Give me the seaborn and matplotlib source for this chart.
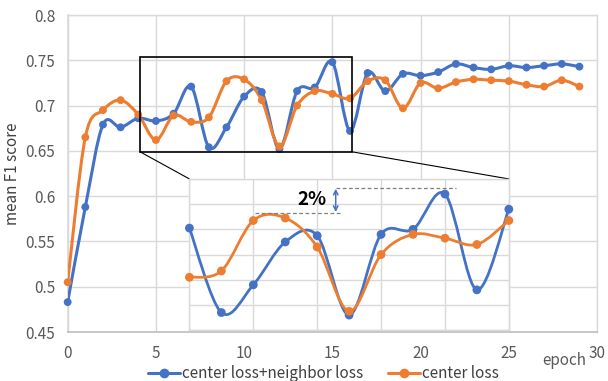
import numpy as np
import pandas as pd
import matplotlib
matplotlib.use("Agg")
import matplotlib.pyplot as plt
from matplotlib.path import Path
from matplotlib.patches import PathPatch, Rectangle
from matplotlib.lines import Line2D
import seaborn as sns

# ---- data -------------------------------------------------------------
epochs = list(range(30))
combined_loss = [0.483, 0.588, 0.679, 0.676, 0.686, 0.683, 0.691, 0.721, 0.654, 0.676,
                 0.710, 0.715, 0.652, 0.716, 0.720, 0.748, 0.672, 0.736, 0.716, 0.735,
                 0.733, 0.737, 0.746, 0.742, 0.740, 0.744, 0.742, 0.744, 0.746, 0.743]
center_loss = [0.505, 0.665, 0.695, 0.706, 0.690, 0.662, 0.689, 0.682, 0.687, 0.727,
               0.729, 0.706, 0.655, 0.700, 0.716, 0.713, 0.708, 0.727, 0.728, 0.697,
               0.725, 0.719, 0.726, 0.729, 0.728, 0.727, 0.723, 0.721, 0.728, 0.721]
series_names = ["center loss+neighbor loss", "center loss"]
x_ticks = [0, 5, 10, 15, 20, 25, 30]
y_ticks = [0.45, 0.5, 0.55, 0.6, 0.65, 0.7, 0.75, 0.8]
zoom_epochs = (7, 17)            # epochs shown in the magnified panel
peak_levels = (0.753, 0.733)     # best smoothed score of each method in that window

colors = ["#4472C4", "#ED7D31"]
grid_c = "#D9D9D9"
text_c = "#595959"
fs = 11

df = pd.DataFrame({
    "epoch": epochs * 2,
    "score": combined_loss + center_loss,
    "method": [series_names[0]] * len(epochs) + [series_names[1]] * len(epochs),
})

sns.set_theme(style="white")
plt.rcParams["font.family"] = ["Noto Sans CJK SC", "DejaVu Sans"]


def smooth_path(xs, ys):
    """Catmull-Rom style Bezier path through the points (spreadsheet 'smoothed line')."""
    x = np.asarray(xs, float)
    y = np.asarray(ys, float)
    px = np.concatenate([[x[0]], x, [x[-1]]])
    py = np.concatenate([[y[0]], y, [y[-1]]])
    verts = [(x[0], y[0])]
    codes = [Path.MOVETO]
    for i in range(len(x) - 1):
        c1 = (px[i + 1] + (px[i + 2] - px[i]) / 6, py[i + 1] + (py[i + 2] - py[i]) / 6)
        c2 = (px[i + 2] - (px[i + 3] - px[i + 1]) / 6, py[i + 2] - (py[i + 3] - py[i + 1]) / 6)
        verts += [c1, c2, (x[i + 1], y[i + 1])]
        codes += [Path.CURVE4] * 3
    return Path(verts, codes)


def draw_series(ax, data, lw=2.2, s=32):
    for name, col in zip(series_names, colors):
        sub = data[data["method"] == name]
        patch = PathPatch(smooth_path(sub["epoch"], sub["score"]), transform=ax.transData,
                          fill=False, edgecolor=col, lw=lw, capstyle="round",
                          joinstyle="round", zorder=3)
        ax.add_patch(patch)
    sns.scatterplot(data=data, x="epoch", y="score", hue="method", hue_order=series_names,
                    palette=colors, s=s, edgecolor=None, linewidth=0, legend=False,
                    ax=ax, zorder=4, clip_on=False)


fig = plt.figure(figsize=(6.08, 3.81), dpi=100)
ax = fig.add_axes([0.1113, 0.1286, 0.8707, 0.832])

draw_series(ax, df)
ax.set_xlim(0, 30)
ax.set_ylim(0.45, 0.8)
ax.set_xticks(x_ticks)
ax.set_yticks(y_ticks)
ax.set_xticklabels([str(t) for t in x_ticks])
ax.set_yticklabels([f"{t:g}" for t in y_ticks])
ax.grid(True, color=grid_c, lw=1)
ax.set_axisbelow(True)
ax.tick_params(axis="both", length=0, labelsize=fs, colors=text_c)
ax.tick_params(axis="x", pad=9)
ax.tick_params(axis="y", pad=9)
for side in ["top", "right"]:
    ax.spines[side].set_color(grid_c)
    ax.spines[side].set_linewidth(1)
ax.spines["left"].set_color(grid_c)
ax.spines["bottom"].set_color("#BFBFBF")
ax.set_xlabel("")
ax.set_ylabel("mean F1 score", fontsize=fs, color="#404040", labelpad=3)

# highlighted window on the main curve
rect_x0, rect_x1 = 4.1, 16.1
rect_y0, rect_y1 = 0.649, 0.754
ax.add_patch(Rectangle((rect_x0, rect_y0), rect_x1 - rect_x0, rect_y1 - rect_y0,
                       fill=False, edgecolor="black", lw=1.2, zorder=5))

# magnified panel
ins_bounds = [6.9, 0.452, 18.1, 0.167]  # in main data coordinates
axins = ax.inset_axes(ins_bounds, transform=ax.transData, zorder=6)
axins.set_facecolor("white")
zoom_df = df[(df["epoch"] >= zoom_epochs[0]) & (df["epoch"] <= zoom_epochs[1])]
draw_series(axins, zoom_df, lw=2.0, s=40)
axins.set_xlim(*zoom_epochs)
axins.set_ylim(0.64, 0.76)
axins.set_xticks(np.arange(zoom_epochs[0], zoom_epochs[1] + 1, 2))
axins.set_yticks(np.arange(0.64, 0.761, 0.02))
axins.grid(True, color=grid_c, lw=1)
axins.set_axisbelow(True)
axins.tick_params(length=0, labelbottom=False, labelleft=False)
axins.set_xlabel("")
axins.set_ylabel("")
for sp in axins.spines.values():
    sp.set_color(grid_c)
    sp.set_linewidth(1)

# connectors from the highlighted window to the panel
ins_left, ins_top = ins_bounds[0], ins_bounds[1] + ins_bounds[3]
ins_right = ins_bounds[0] + ins_bounds[2]
ax.plot([rect_x0, ins_left], [rect_y0, ins_top], color="black", lw=0.8, zorder=5)
ax.plot([rect_x1, ins_right], [rect_y0, ins_top], color="black", lw=0.8, zorder=5)

# gap between the two best scores
hi, lo = peak_levels
axins.plot([11.6, 15.35], [hi, hi], ls=(0, (3, 2)), color="#7F7F7F", lw=0.9, zorder=5)
axins.plot([9.05, 11.75], [lo, lo], ls=(0, (3, 2)), color="#7F7F7F", lw=0.9, zorder=5)
axins.annotate("", xy=(11.58, hi - 0.0008), xytext=(11.58, lo + 0.0008),
               arrowprops=dict(arrowstyle="<->", color=colors[0], lw=1.1,
                               shrinkA=0, shrinkB=0, mutation_scale=8), zorder=5)
axins.text(11.28, (hi + lo) / 2 + 0.0005, f"{round((hi - lo) * 100)}%", ha="right",
           va="center", fontsize=13.5, fontweight="bold", color="black", zorder=6)

fig.text(0.928, 0.042, "epoch", ha="center", va="baseline", fontsize=fs, color=text_c)

handles = [Line2D([0], [0], color=c, lw=2.2, marker="o", markersize=6) for c in colors]
fig.legend(handles, series_names, loc="center", bbox_to_anchor=(0.532, 0.019), ncol=2,
           frameon=False, fontsize=fs, handlelength=2.1, handletextpad=0.15,
           columnspacing=1.6, labelcolor="#404040", borderaxespad=0, borderpad=0)

fig.savefig("out.png", dpi=100)
